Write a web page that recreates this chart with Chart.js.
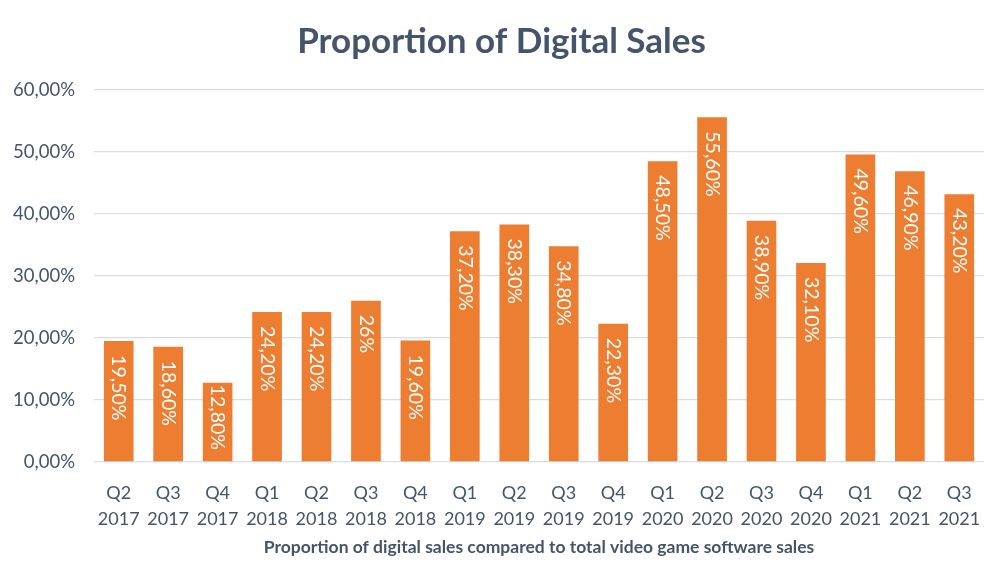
<!DOCTYPE html>
<html>
<head>
<meta charset="utf-8">
<script src="https://cdn.jsdelivr.net/npm/chart.js@4.4.1/dist/chart.umd.min.js"></script>
<style>
  html, body { margin: 0; padding: 0; background: #fff; }
  #wrap { width: 1003px; height: 578px; }
</style>
</head>
<body>
<div id="wrap"><canvas id="c" width="1003" height="578"></canvas></div>
<script>
const quarters = ["Q2","Q3","Q4","Q1","Q2","Q3","Q4","Q1","Q2","Q3","Q4","Q1","Q2","Q3","Q4","Q1","Q2","Q3"];
const years = ["2017","2017","2017","2018","2018","2018","2018","2019","2019","2019","2019","2020","2020","2020","2020","2021","2021","2021"];
const digitalShare = [19.5, 18.6, 12.8, 24.2, 24.2, 26, 19.6, 37.2, 38.3, 34.8, 22.3, 48.5, 55.6, 38.9, 32.1, 49.6, 46.9, 43.2];
const yTicks = [0, 10, 20, 30, 40, 50, 60];

const labels = quarters.map((q, i) => [q, years[i]]);
const textColor = '#44546A';
const fmt = v => Number.isInteger(v) ? v + '%' : v.toFixed(2).replace('.', ',') + '%';
const fmtTick = v => v.toFixed(2).replace('.', ',') + '%';

const barLabels = {
  id: 'barLabels',
  afterDatasetsDraw(chart) {
    const ctx = chart.ctx;
    const meta = chart.getDatasetMeta(0);
    ctx.save();
    ctx.fillStyle = '#ffffff';
    ctx.font = '19.5px Lato';
    ctx.textAlign = 'left';
    ctx.textBaseline = 'middle';
    meta.data.forEach((bar, i) => {
      const txt = fmt(digitalShare[i]);
      const w = ctx.measureText(txt).width;
      const h = bar.base - bar.y;
      const off = Math.max(2, Math.min(14, h - w - 13));
      ctx.save();
      ctx.translate(bar.x, bar.y + off);
      ctx.rotate(Math.PI / 2);
      ctx.fillText(txt, 0, 0);
      ctx.restore();
    });
    ctx.restore();
  }
};

new Chart(document.getElementById('c'), {
  type: 'bar',
  data: {
    labels: labels,
    datasets: [{
      data: digitalShare,
      backgroundColor: '#ED7D31',
      barPercentage: 0.6,
      categoryPercentage: 1.0
    }]
  },
  plugins: [barLabels],
  options: {
    responsive: false,
    animation: false,
    layout: { padding: { left: 0, right: 0, top: 0, bottom: 0 } },
    plugins: {
      legend: { display: false },
      tooltip: { enabled: false },
      title: {
        display: true,
        text: 'Proportion of Digital Sales',
        color: textColor,
        font: { family: 'Lato', size: 35, weight: 'bold' },
        padding: { top: 21, bottom: 27 }
      }
    },
    scales: {
      x: {
        afterFit(scale) { scale.height = 116; },
        grid: { display: false },
        border: { display: false },
        ticks: {
          color: textColor,
          font: { family: 'Lato', size: 18, lineHeight: 1.4 },
          padding: 11,
          maxRotation: 0,
          autoSkip: false
        },
        title: {
          display: true,
          text: 'Proportion of digital sales compared to total video game software sales',
          color: textColor,
          font: { family: 'Lato', size: 17.5, weight: 'bold' },
          padding: { top: 0, bottom: 20 }
        }
      },
      y: {
        min: 0,
        max: 60,
        afterFit(scale) { scale.width = 94; },
        afterBuildTicks(scale) { scale.ticks = yTicks.map(v => ({ value: v })); },
        grid: { color: '#D9DDE3', lineWidth: 1.3, drawTicks: false },
        border: { display: false },
        ticks: {
          color: textColor,
          font: { family: 'Lato', size: 18.5 },
          padding: 19,
          callback: v => fmtTick(v)
        }
      },
      yRight: {
        position: 'right',
        min: 0,
        max: 60,
        afterFit(scale) { scale.width = 19; },
        grid: { display: false },
        border: { display: false },
        ticks: { display: false }
      }
    }
  }
});
</script>
</body>
</html>
